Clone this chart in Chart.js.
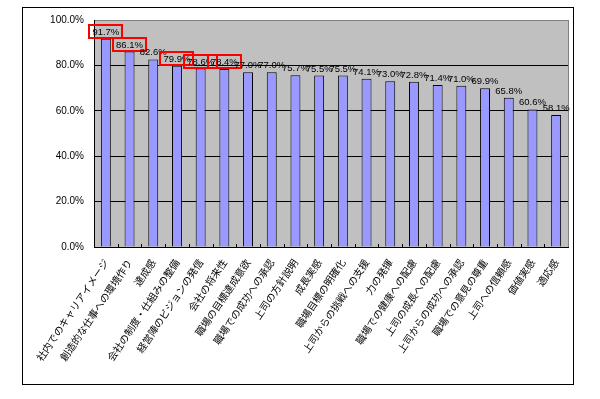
<!DOCTYPE html>
<html>
<head>
<meta charset="utf-8">
<script src="https://cdn.jsdelivr.net/npm/chart.js@4/dist/chart.umd.min.js"></script>
<style>
  html, body { margin: 0; padding: 0; background: #fff; }
  #wrap { width: 600px; height: 399px; position: relative; }
</style>
</head>
<body>
<div id="wrap"><canvas id="chart" width="600" height="399"></canvas></div>
<script>
// Data
const labels = [
  '社内でのキャリアイメージ', '創造的な仕事への環境作り', '達成感', '会社の制度・仕組みの整備',
  '経営陣のビジョンの発信', '会社の将来性', '職場の目標達成意欲', '職場での成功への承認',
  '上司の方針説明', '成長実感', '職場目標の明確化', '上司からの挑戦への支援',
  '力の発揮', '職場での健康への配慮', '上司の成長への配慮', '上司からの成功への承認',
  '職場での意見の尊重', '上司への信頼感', '価値実感', '適応感'
];
const values = [91.7, 86.1, 82.6, 79.9, 78.6, 78.4, 77.0, 77.0, 75.7, 75.5,
  75.5, 74.1, 73.0, 72.8, 71.4, 71.0, 69.9, 65.8, 60.6, 58.1];
// which value labels get a red box
const boxed = [0, 1, 3, 4, 5];
const yTicks = [0, 20, 40, 60, 80, 100];

// Gray plot background, outer frame, tick marks and value labels
const decorations = {
  id: 'decorations',
  beforeDraw(chart) {
    const { ctx, chartArea: a } = chart;
    ctx.save();
    ctx.fillStyle = '#C0C0C0';
    ctx.fillRect(a.left, a.top, a.right - a.left, a.bottom - a.top);
    ctx.restore();
  },
  afterDraw(chart) {
    const { ctx, chartArea: a } = chart;
    ctx.save();
    // gray right edge of plot
    ctx.strokeStyle = '#808080';
    ctx.lineWidth = 1;
    ctx.beginPath();
    ctx.moveTo(Math.round(a.right) + 0.5, a.top);
    ctx.lineTo(Math.round(a.right) + 0.5, a.bottom);
    ctx.stroke();

    // small tick marks between categories
    const step = (a.right - a.left) / labels.length;
    ctx.strokeStyle = '#000';
    ctx.beginPath();
    for (let i = 1; i < labels.length; i++) {
      const x = Math.round(a.left + i * step) + 0.5;
      ctx.moveTo(x, a.bottom);
      ctx.lineTo(x, a.bottom - 3);
    }
    ctx.stroke();

    // outer frame
    ctx.strokeStyle = '#000';
    ctx.strokeRect(22.5, 7.5, 551, 377);

    // value labels
    const meta = chart.getDatasetMeta(0);
    ctx.font = '9.5px "Liberation Sans", Arial, sans-serif';
    ctx.textAlign = 'center';
    ctx.textBaseline = 'alphabetic';
    ctx.fillStyle = '#000';
    meta.data.forEach((bar, i) => {
      const txt = values[i].toFixed(1) + '%';
      const yBase = bar.y - 4;
      ctx.fillText(txt, bar.x, yBase);
      if (boxed.includes(i)) {
        const w = ctx.measureText(txt).width;
        ctx.strokeStyle = '#FF0000';
        ctx.lineWidth = 2;
        ctx.strokeRect(Math.round(bar.x - w / 2 - 3), Math.round(yBase - 10), Math.round(w + 6), 13);
      }
    });
    ctx.restore();
  }
};

new Chart(document.getElementById('chart'), {
  type: 'bar',
  data: {
    labels,
    datasets: [{
      data: values,
      backgroundColor: '#9999FF',
      borderColor: '#000',
      borderWidth: 1,
      barPercentage: 0.42,
      categoryPercentage: 1.0,
    }],
  },
  options: {
    responsive: false,
    animation: false,
    layout: { padding: { top: 20, right: 32, left: 0, bottom: 0 } },
    plugins: {
      legend: { display: false },
      tooltip: { enabled: false },
    },
    scales: {
      x: {
        grid: { display: false },
        border: { color: '#000', width: 1 },
        ticks: {
          color: '#000',
          autoSkip: false,
          minRotation: 56,
          maxRotation: 56,
          padding: 2,
          font: { family: '"Noto Sans CJK JP", sans-serif', size: 10 },
        },
        afterFit(scale) { scale.height = 152; },
      },
      y: {
        min: 0,
        max: 100,
        afterBuildTicks(scale) { scale.ticks = yTicks.map(v => ({ value: v })); },
        grid: {
          color: (c) => (c.tick && c.tick.value === 100 ? '#808080' : '#000'),
          drawTicks: false,
        },
        border: { color: '#000', width: 1 },
        ticks: {
          color: '#000',
          padding: 10,
          font: { family: '"Liberation Sans", Arial, sans-serif', size: 10 },
          callback: (v) => v.toFixed(1) + '%',
        },
        afterFit(scale) { scale.width = 94; },
      },
    },
  },
  plugins: [decorations],
});
</script>
</body>
</html>
